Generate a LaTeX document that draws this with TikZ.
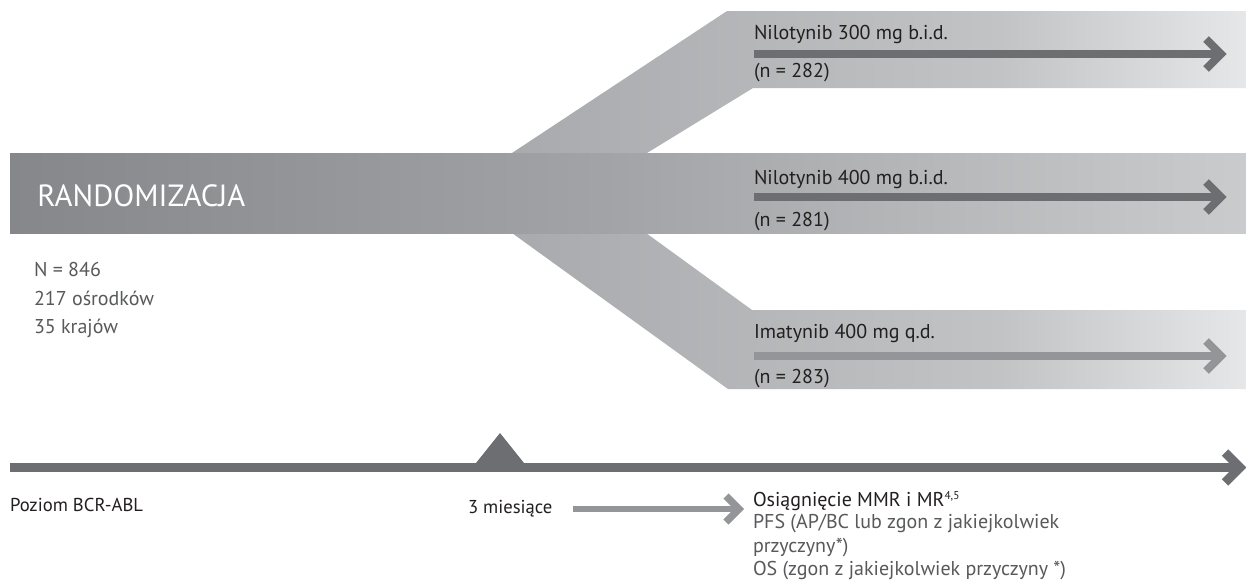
\documentclass[tikz,border=0pt]{standalone}
\usepackage{fontspec}
\setmainfont{PT Sans}
\usetikzlibrary{calc}
\definecolor{cArrow}{HTML}{6D6E71}
\definecolor{cArrowLight}{HTML}{939598}
\definecolor{cText}{HTML}{231F20}
\definecolor{cGrayText}{HTML}{58595B}
\definecolor{cBarA}{HTML}{86878B}
\definecolor{cBarB}{HTML}{A3A4A7}
\definecolor{cBarC}{HTML}{CACBCD}
\definecolor{cBrA}{HTML}{A9AAAD}
\definecolor{cBrB}{HTML}{C2C3C5}
\definecolor{cBrC}{HTML}{E6E7E8}
\tikzset{
  lbl/.style={anchor=base west, inner sep=0pt, outer sep=0pt, text=cText, font=\fontsize{15}{18}\selectfont},
  info/.style={anchor=base west, inner sep=0pt, outer sep=0pt, text=cGrayText, font=\fontsize{15}{18}\selectfont},
  armline/.style={line width=6pt, draw=cArrow},
  chevron/.style={line width=6pt, draw=cArrow, miter limit=10, line join=miter, line cap=butt},
  timeline/.style={line width=6.75pt, draw=cArrow},
}
\begin{document}
\begin{tikzpicture}[x=0.75pt,y=-0.75pt]
\useasboundingbox (0,0) rectangle (1246,587);
\fill[white] (0,0) rectangle (1246,587);
% branches
\begin{scope}
  \clip (512,153) -- (727,11) -- (1246,11) -- (1246,88) -- (753,88) -- (647,153) -- cycle
        (646,233) -- (752,310) -- (1246,310) -- (1246,389) -- (728,389) -- (512,233) -- cycle;
  \shade[left color=cBrA, right color=cBrB] (512,0) rectangle (1001,400);
  \shade[left color=cBrB, right color=cBrC] (1000,0) rectangle (1247,400);
\end{scope}
% main bar
\shade[left color=cBarA, right color=cBarB] (10,153) rectangle (621,233);
\shade[left color=cBarB, right color=cBarC] (620,153) rectangle (1246,233);
\node[anchor=base west, inner sep=0pt, text=white, font=\fontsize{23}{27}\selectfont] (rand) at (37,206) {RANDOMIZACJA};

% info
\node[info] (n1) at (34,276) {N = 846};
\node[info] (n2) at (34,305) {217 ośrodków};
\node[info] (n3) at (34,333) {35 krajów};

% arm 1
\node[lbl] (a1) at (754,39) {Nilotynib 300 mg b.i.d.};
\node[lbl] (a1n) at (754,77) {(n = 282)};
\coordinate (a1s) at (754,54);
\coordinate (a1e) at (1221,54);
\draw[armline] (a1s) -- (a1e);
\draw[chevron] ($(a1e)+(-15,-15)$) -- (a1e) -- ($(a1e)+(-15,15)$);

% arm 2
\node[lbl] (a2) at (754,184) {Nilotynib 400 mg b.i.d.};
\node[lbl] (a2n) at (754,226) {(n = 281)};
\coordinate (a2s) at (754,197);
\coordinate (a2e) at (1221,197);
\draw[armline] (a2s) -- (a2e);
\draw[chevron] ($(a2e)+(-15,-15)$) -- (a2e) -- ($(a2e)+(-15,15)$);

% arm 3
\node[lbl] (a3) at (754,338) {Imatynib 400 mg q.d.};
\node[lbl] (a3n) at (754,383) {(n = 283)};
\coordinate (a3s) at (754,356);
\coordinate (a3e) at (1221,356);
\draw[armline, draw=cArrowLight] (a3s) -- (a3e);
\draw[chevron, draw=cArrowLight] ($(a3e)+(-15,-15)$) -- (a3e) -- ($(a3e)+(-15,15)$);

% timeline
\coordinate (ts) at (10,467.5);
\coordinate (te) at (1240,467.5);
\draw[timeline] (ts) -- (te);
\draw[chevron, line width=6.75pt] ($(te)+(-15,-15)$) -- (te) -- ($(te)+(-15,15)$);
\fill[cArrow] (472,468) -- (500,433) -- (528,468) -- cycle;

\node[lbl, font=\fontsize{14}{17}\selectfont] (bcr) at (10,511) {Poziom BCR-ABL};
\node[lbl, font=\fontsize{14}{17}\selectfont] (m3) at (468,513) {3 miesiące};
\coordinate (m3s) at (573,509);
\coordinate (m3e) at (739,509);
\draw[line width=4.5pt, draw=cArrowLight] (m3s) -- (m3e);
\draw[chevron, line width=5.5pt, draw=cArrowLight] ($(m3e)+(-13,-13)$) -- (m3e) -- ($(m3e)+(-13,13)$);

\node[lbl] (o1) at (753,506) {Osiągnięcie MMR i MR\raisebox{5pt}{\fontsize{8.5}{9}\selectfont 4,5}};
\node[info] (o2) at (753,528.5) {PFS (AP/BC lub zgon z jakiejkolwiek};
\node[info] (o3) at (753,552) {przyczyny*)};
\node[info] (o4) at (753,575.5) {OS (zgon z jakiejkolwiek przyczyny *)};
\end{tikzpicture}
\end{document}
